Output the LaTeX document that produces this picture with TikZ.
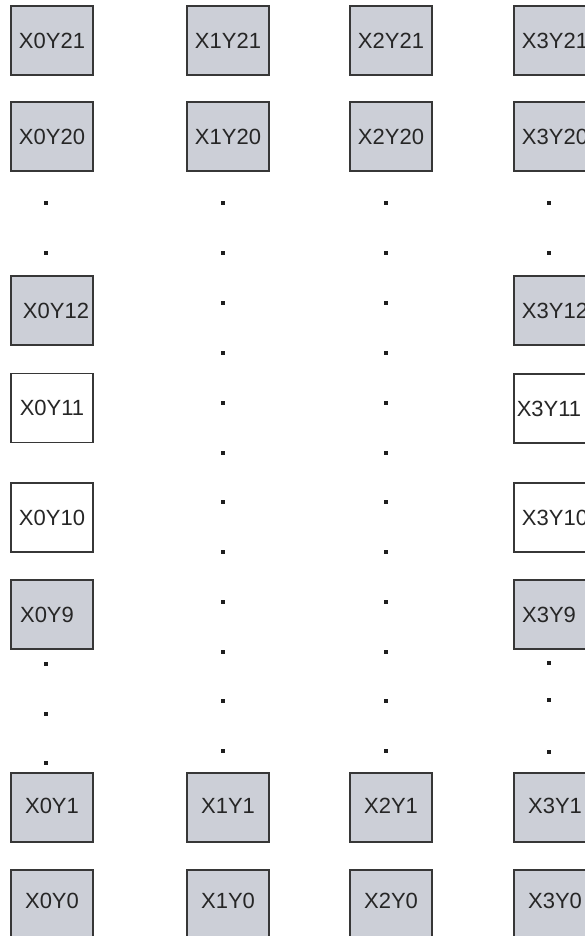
\documentclass[tikz,border=0pt]{standalone}
\usepackage{fontspec}
\setmainfont{Liberation Sans}
\definecolor{cellfill}{RGB}{204,207,215}
\definecolor{celledge}{RGB}{55,55,55}
\definecolor{dotcol}{RGB}{30,30,30}
\tikzset{
  cell/.style={draw=celledge, line width=1.2pt, minimum width=82pt, minimum height=69pt,
    inner sep=0pt, font=\fontsize{22}{26}\selectfont, text=black!85},
  grey/.style={cell, fill=cellfill},
  white/.style={cell, fill=white},
  dotsq/.style={fill=dotcol, minimum size=4pt, inner sep=0pt, draw=none}
}
\begin{document}
\begin{tikzpicture}[x=1pt,y=-1pt]
\useasboundingbox (0,0) rectangle (585,936);
\clip (0,0) rectangle (585,936);
% column centres: 52, 228, 391, 555
% X0 column
\node[grey]  (x0y21) at (52,40.5)  {X0Y21};
\node[grey]  (x0y20) at (52,136.5) {X0Y20};
\node[grey]  (x0y12) at (52,310.5) {\raisebox{-3pt}{\hspace*{8pt}X0Y12}};
\node[white] (x0y11) at (52,408)   {\raisebox{-3pt}{X0Y11}};
\node[white] (x0y10) at (52,517.5) {X0Y10};
\node[grey]  (x0y9)  at (52,614.5) {\raisebox{-2pt}{X0Y9\hspace*{10pt}}};
\node[grey]  (x0y1)  at (52,807.5) {\raisebox{4pt}{X0Y1}};
\node[grey]  (x0y0)  at (52,904.5) {\raisebox{7pt}{X0Y0}};
% X1 column
\node[grey]  (x1y21) at (228,40.5)  {X1Y21};
\node[grey]  (x1y20) at (228,136.5) {X1Y20};
\node[grey]  (x1y1)  at (228,807.5) {\raisebox{4pt}{X1Y1}};
\node[grey]  (x1y0)  at (228,904.5) {\raisebox{7pt}{X1Y0}};
% X2 column
\node[grey]  (x2y21) at (391,40.5)  {X2Y21};
\node[grey]  (x2y20) at (391,136.5) {X2Y20};
\node[grey]  (x2y1)  at (391,807.5) {\raisebox{4pt}{X2Y1}};
\node[grey]  (x2y0)  at (391,904.5) {\raisebox{7pt}{X2Y0}};
% X3 column
\node[grey]  (x3y21) at (555,40.5)  {X3Y21};
\node[grey]  (x3y20) at (555,136.5) {X3Y20};
\node[grey]  (x3y12) at (555,310.5) {\raisebox{-3pt}{X3Y12}};
\node[white] (x3y11) at (555,408.5) {\raisebox{-3pt}{X3Y11\hspace*{12pt}}};
\node[white] (x3y10) at (555,517.5) {X3Y10};
\node[grey]  (x3y9)  at (555,614.5) {\raisebox{-2pt}{X3Y9\hspace*{12pt}}};
\node[grey]  (x3y1)  at (555,807.5) {\raisebox{4pt}{X3Y1}};
\node[grey]  (x3y0)  at (555,904.5) {\raisebox{7pt}{X3Y0}};
% dots
\foreach \y [count=\i] in {203,253,664,714,763}
  \node[dotsq] (d0-\i) at (46,\y) {};
\foreach \y [count=\i] in {203,253,303,353,403,453,502,552,602,652,701,751}{
  \node[dotsq] (d1-\i) at (223,\y) {};
  \node[dotsq] (d2-\i) at (386,\y) {};
}
\foreach \y [count=\i] in {203,253,663,700,752}
  \node[dotsq] (d3-\i) at (549,\y) {};
\end{tikzpicture}
\end{document}
